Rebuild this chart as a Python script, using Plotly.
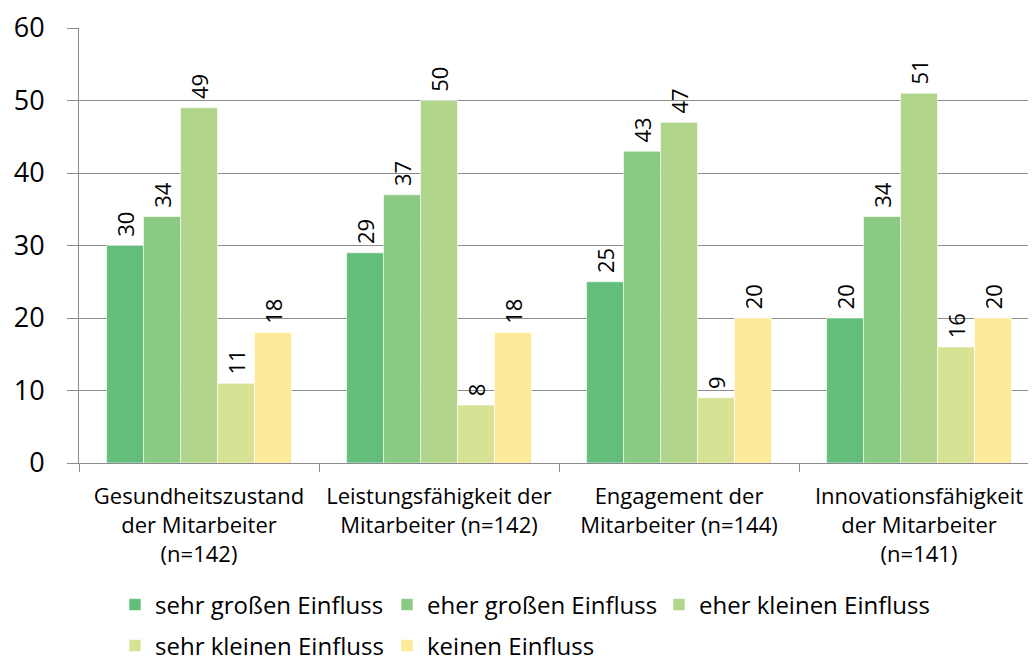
import plotly.graph_objects as go

categories = [
    "Gesundheitszustand<br>der Mitarbeiter<br>(n=142)",
    "Leistungsfähigkeit der<br>Mitarbeiter (n=142)",
    "Engagement der<br>Mitarbeiter (n=144)",
    "Innovationsfähigkeit<br>der Mitarbeiter<br>(n=141)",
]
series_names = [
    "sehr großen Einfluss",
    "eher großen Einfluss",
    "eher kleinen Einfluss",
    "sehr kleinen Einfluss",
    "keinen Einfluss",
]
sehr_gross = [30, 29, 25, 20]
eher_gross = [34, 37, 43, 34]
eher_klein = [49, 50, 47, 51]
sehr_klein = [11, 8, 9, 16]
keinen = [18, 18, 20, 20]
series_values = [sehr_gross, eher_gross, eher_klein, sehr_klein, keinen]
colors = ["#63BE7B", "#8ACA83", "#B1D58A", "#D7E295", "#FDEA9A"]
legend_ids = ["legend", "legend", "legend", "legend2", "legend2"]

FONT = "Open Sans"
# the page body has an 8px margin, so the figure is drawn 8px smaller
W, H = 1028, 654

fig = go.Figure()
for name, vals, col, lg in zip(series_names, series_values, colors, legend_ids):
    fig.add_trace(go.Bar(
        x=categories, y=vals, name=name,
        marker=dict(color=col, line=dict(color="rgba(255,255,255,0.6)", width=1)),
        text=["\u00a0" + str(v) for v in vals], textposition="outside", textangle=-90,
        textfont=dict(family=FONT, size=22, color="#000"),
        cliponaxis=False, legend=lg,
    ))

legend_common = dict(
    orientation="h", xref="container", yref="container",
    xanchor="left", yanchor="middle",
    font=dict(family=FONT, size=24, color="#000"),
    entrywidth=227, bgcolor="rgba(0,0,0,0)",
    itemclick=False,
)

fig.update_layout(
    width=W, height=H,
    margin=dict(l=71, r=0, t=17, b=199),
    paper_bgcolor="white", plot_bgcolor="white",
    barmode="group", bargap=0.23, bargroupgap=0,
    font=dict(family=FONT, color="#000"),
    showlegend=True,
    legend=dict(legend_common, x=107 / W, y=1 - 597 / H),
    legend2=dict(legend_common, x=107 / W, y=1 - 638 / H),
)
fig.update_xaxes(
    type="category", range=[-0.5, 3.4875],
    showline=True, linecolor="#8c8c8c", linewidth=1,
    ticks="outside", ticklen=8, tickcolor="#8c8c8c", tickson="boundaries",
    tickfont=dict(family=FONT, size=22, color="#000"),
    ticklabelstandoff=14,
    showgrid=False, zeroline=False,
)
fig.update_yaxes(
    range=[0, 60], dtick=10, tick0=0,
    showline=True, linecolor="#8c8c8c", linewidth=1,
    ticks="outside", ticklen=11, tickcolor="#8c8c8c",
    showgrid=True, gridcolor="#8c8c8c", gridwidth=1,
    zeroline=False,
    tickfont=dict(family=FONT, size=27, color="#000"),
    ticklabelstandoff=17, ticklabeloverflow="allow",
)

fig.write_html("out.html")
